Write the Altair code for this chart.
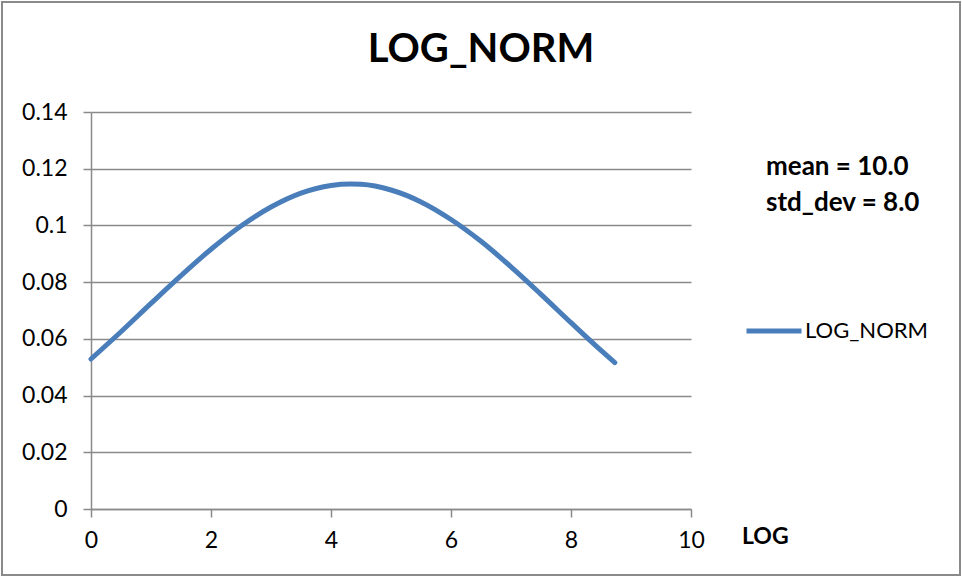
import altair as alt
import pandas as pd

# Sampled density curve
log_x = [0.0, 0.5, 1.0, 1.5, 2.0, 2.5, 3.0, 3.5, 4.0, 4.33, 4.5, 5.0, 5.5,
         6.0, 6.5, 7.0, 7.5, 8.0, 8.5, 8.73]
log_norm = [0.0529, 0.0625, 0.0725, 0.0823, 0.0916, 0.0998, 0.1065, 0.1114,
            0.1141, 0.1146, 0.1145, 0.1125, 0.1083, 0.1021, 0.0944, 0.0854,
            0.0757, 0.0657, 0.0559, 0.0516]
series_name = "LOG_NORM"
x_title = "LOG"
x_ticks = [0, 2, 4, 6, 8, 10]
y_ticks = [0, 0.02, 0.04, 0.06, 0.08, 0.1, 0.12, 0.14]
notes = ["mean = 10.0", "std_dev = 8.0"]

FONT = "Lato"
GRID = "#8a8a8a"
BLUE = "#4a7ebb"

df = pd.DataFrame({"x": log_x, "y": log_norm, "series": series_name})

axis_common = dict(
    title=None, tickSize=8, labelFontSize=23, labelFont=FONT,
    labelColor="#000", domainColor=GRID, tickColor=GRID,
    domainWidth=1.5, tickWidth=1.5, labelFlush=False,
)

line = alt.Chart(df).mark_line(
    strokeWidth=5, strokeCap="round", interpolate="monotone"
).encode(
    x=alt.X("x:Q", scale=alt.Scale(domain=[0, 10], nice=False),
            axis=alt.Axis(values=x_ticks, grid=False, labelPadding=12,
                          **axis_common)),
    y=alt.Y("y:Q", scale=alt.Scale(domain=[0, 0.14], nice=False),
            axis=alt.Axis(values=y_ticks, grid=True, format="~g",
                          gridColor=GRID, gridWidth=1.5, gridOpacity=1,
                          labelPadding=16, **axis_common)),
    color=alt.Color("series:N",
                    scale=alt.Scale(domain=[series_name], range=[BLUE]),
                    legend=alt.Legend(title=None, orient="none",
                                      legendX=653, legendY=189,
                                      symbolType="stroke",
                                      symbolSize=3025,
                                      symbolStrokeWidth=5,
                                      labelFont=FONT, labelFontSize=22,
                                      labelColor="#000", labelOffset=1)),
)


def label(text, size, x, y, align="left"):
    return alt.Chart(pd.DataFrame({"t": [text]})).mark_text(
        font=FONT, fontSize=size, fontWeight="bold", color="#000",
        align=align, baseline="middle"
    ).encode(text="t:N", x=alt.value(x), y=alt.value(y))


# Chart title, axis title and parameter notes
title = label(series_name, 40, 390, -62, align="center")
axis_label = label(x_title, 23, 651, 425)
note1 = label(notes[0], 26, 675, 55)
note2 = label(notes[1], 26, 675, 91)

# Outer frame around the whole figure
frame = alt.Chart(pd.DataFrame({"k": [0]})).mark_rect(
    fill=None, stroke="#8a8a8a", strokeWidth=2
).encode(x=alt.value(-89), x2=alt.value(869),
         y=alt.value(-110), y2=alt.value(463))

chart = alt.layer(frame, line, title, axis_label, note1, note2).properties(
    width=600, height=397,
    padding={"left": 91, "top": 112, "right": 271, "bottom": 68},
    autosize=alt.AutoSizeParams(type="none"),
    background="white",
).configure_view(stroke=None)

chart.save("out.html", embed_options={"renderer": "svg", "actions": False})
